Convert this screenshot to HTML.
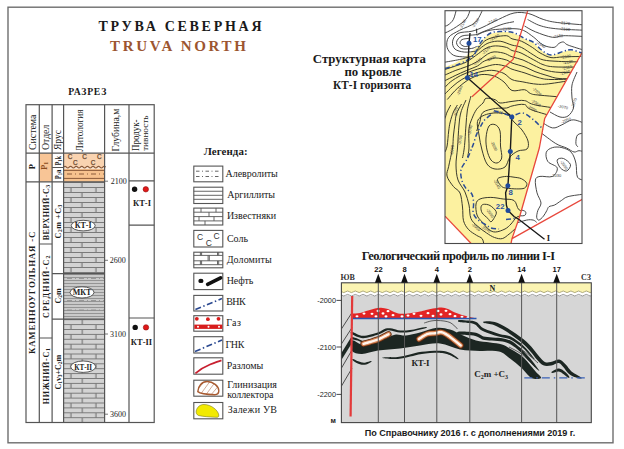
<!DOCTYPE html>
<html><head><meta charset="utf-8">
<style>
html,body{margin:0;padding:0;background:#fff;width:624px;height:449px;overflow:hidden}
svg{display:block}
svg{font-family:"Liberation Serif",serif}
.sans{font-family:"Liberation Sans",sans-serif}
</style></head><body>
<svg width="624" height="449" viewBox="0 0 624 449">
<defs>
<pattern id="brick" x="63.6" y="182" width="25" height="10" patternUnits="userSpaceOnUse">
<rect width="25" height="10" fill="#d3d3d3"/>
<path d="M0 0.5H25M0 5.5H25M18.4 0.5V5.5M7.4 5.5V10.5" stroke="#7a7a7a" stroke-width="1.2"/>
</pattern>
<pattern id="brick2" x="63.6" y="319.2" width="25" height="9.8" patternUnits="userSpaceOnUse">
<rect width="25" height="9.8" fill="#d3d3d3"/>
<path d="M0 0.5H25M0 5.4H25M18.6 0.5V5.4M7.4 5.4V10.3" stroke="#7a7a7a" stroke-width="1.2"/>
</pattern>
<pattern id="argil" x="63.6" y="274" width="20" height="9" patternUnits="userSpaceOnUse">
<rect width="20" height="9" fill="#c9c9c9"/>
<path d="M0 0.5H20M0 3.5H20M0 6.5H20" stroke="#8f8f8f" stroke-width="0.9"/>
</pattern>
</defs>
<!-- frame -->
<rect x="8" y="7.2" width="605" height="435.6" fill="none" stroke="#6e6e6e" stroke-width="1.4"/>
<!-- title -->
<text x="98.5" y="30.6" font-size="14" font-weight="bold" fill="#1a1a1a" textLength="163" lengthAdjust="spacing">ТРУВА СЕВЕРНАЯ</text>
<text x="110" y="51" font-size="15" font-weight="bold" fill="#9c5530" textLength="136" lengthAdjust="spacing">TRUVA NORTH</text>
<text x="68.3" y="95.2" font-size="9.7" font-weight="bold" fill="#1a1a1a" textLength="38" lengthAdjust="spacing">РАЗРЕЗ</text>

<!-- table fills -->
<rect x="39.3" y="153.2" width="12.8" height="28.6" fill="#f8c596"/>
<rect x="63.6" y="153.2" width="41" height="28.6" fill="#f9d3b0"/>
<rect x="63.6" y="167" width="41" height="14.8" fill="#f6c28e"/>
<rect x="63.6" y="182" width="41" height="92" fill="url(#brick)"/>
<rect x="63.6" y="274" width="41" height="45" fill="url(#argil)"/>
<rect x="63.6" y="319" width="41" height="103.5" fill="url(#brick2)"/>
<g stroke="#8a5a3a" fill="none">
<path d="M63.6 167.2 q1.4 -1.6 2.8 0 t2.8 0 t2.8 0 t2.8 0 t2.8 0 t2.8 0 t2.8 0 t2.8 0 t2.8 0 t2.8 0 t2.8 0 t2.8 0 t2.8 0 t2.8 0 t2.8 0 V168.8 H63.6Z" fill="#fdf0e4" stroke="none"/><path d="M63.6 167.2 q1.4 -1.6 2.8 0 t2.8 0 t2.8 0 t2.8 0 t2.8 0 t2.8 0 t2.8 0 t2.8 0 t2.8 0 t2.8 0 t2.8 0 t2.8 0 t2.8 0 t2.8 0 t2.8 0" stroke-width="1.2"/>
<path d="M63.6 170.4H104.6M63.6 178.4H104.6" stroke-width="1"/>
<path d="M67 174H104" stroke-width="1" stroke-dasharray="5 3 1 3"/>
</g>
<g fill="#6a4a30" font-size="6.5" font-family="Liberation Sans" stroke="#6a4a30" stroke-width="0.25">
<text x="67.8" y="159.3">C</text><text x="82.2" y="159.3">C</text><text x="97" y="159.3">C</text>
<text x="73" y="164.5">C</text><text x="90.7" y="164.5">C</text>
</g>
<g stroke="#8a8a8a" stroke-width="0.8" fill="none">
<path d="M67 278.5H104M67 300.5H104M67 310H104" stroke-dasharray="5 3 1 3"/>
</g>
<!-- table lines -->
<g stroke="#555" stroke-width="1.2" fill="none">
<rect x="26" y="104.7" width="128.2" height="317.8"/>
<path d="M39.3 104.7V422.5M52.1 104.7V422.5M63.6 104.7V422.5M104.6 104.7V422.5M129 104.7V422.5"/>
<path d="M26 153.2H154.2M26 181.8H104.6M52.1 167.5H63.6M39.3 244H52.1M39.3 338H52.1M52.1 273.7H104.6M52.1 319.2H104.6M129 180.9H154.2M129 225.2H154.2M129 318H154.2"/>
<path d="M104.6 181.2H108M104.6 260.3H108M104.6 334H108M104.6 414.2H108" stroke-width="0.8"/>
</g>
<!-- ellipses -->
<g fill="#fff" stroke="#333" stroke-width="0.8">
<ellipse cx="83.2" cy="225.6" rx="12" ry="5.3"/>
<ellipse cx="82" cy="292.4" rx="12" ry="5.6"/>
<ellipse cx="83.2" cy="366.7" rx="12.5" ry="5.7"/>
</g>
<g font-size="8" font-weight="bold" fill="#222" text-anchor="middle">
<text x="83.2" y="228.4">КТ-I</text>
<text x="82" y="295.2">МКТ</text>
<text x="83.2" y="369.6" textLength="17.9" lengthAdjust="spacingAndGlyphs" font-size="8.4">КТ-II</text>
</g>
<!-- header texts rotated -->
<g font-size="10" fill="#222">
<text transform="translate(36.2 150) rotate(-90)" textLength="35.3" lengthAdjust="spacingAndGlyphs">Система</text>
<text transform="translate(48.6 150) rotate(-90)" textLength="25.3" lengthAdjust="spacingAndGlyphs">Отдел</text>
<text transform="translate(61 150) rotate(-90)" textLength="20" lengthAdjust="spacingAndGlyphs">Ярус</text>
<text transform="translate(83.3 151.4) rotate(-90)" textLength="42" lengthAdjust="spacingAndGlyphs">Литология</text>
<text transform="translate(119.2 151.4) rotate(-90)" textLength="42.7" lengthAdjust="spacingAndGlyphs">Глубина,м</text>
<text transform="translate(138.8 151) rotate(-90)" font-size="9.5" textLength="31.6" lengthAdjust="spacingAndGlyphs">Продук-</text>
<text transform="translate(148.3 151) rotate(-90)" font-size="9" textLength="35.6" lengthAdjust="spacingAndGlyphs">тивность</text>
</g>
<!-- depth labels -->
<g font-size="8" fill="#222">
<text x="110.8" y="184">2100</text>
<text x="109.8" y="263.1">2600</text>
<text x="110" y="336.8">3100</text>
<text x="110" y="417">3600</text>
</g>
<!-- productivity -->
<circle cx="134.6" cy="189.3" r="2.7" fill="#111"/>
<circle cx="145.8" cy="189.3" r="2.7" fill="#e01818" stroke="#901010" stroke-width="0.6"/>
<circle cx="135.2" cy="327.4" r="2.7" fill="#111"/>
<circle cx="146" cy="327.4" r="2.7" fill="#e01818" stroke="#901010" stroke-width="0.6"/>
<g font-size="8.5" font-weight="bold" fill="#222" text-anchor="middle">
<text x="142" y="206.4">КТ-I</text>
<text x="141.5" y="344.5">КТ-II</text>
</g>
<!-- col texts -->
<g font-weight="bold" fill="#1e1e1e">
<text transform="translate(34.8 354) rotate(-90)" font-size="8.8" textLength="122.3" lengthAdjust="spacing">КАМЕННОУГОЛЬНАЯ  -С</text>
<text transform="translate(48.9 240.2) rotate(-90)" font-size="8" textLength="55.3" lengthAdjust="spacing">ВЕРХНИЙ-С<tspan font-size="5.8" dy="1">3</tspan></text>
<text transform="translate(48.9 318) rotate(-90)" font-size="8" textLength="62.3" lengthAdjust="spacing">СРЕДНИЙ-С<tspan font-size="5.8" dy="1">2</tspan></text>
<text transform="translate(48.9 404.2) rotate(-90)" font-size="8" textLength="56" lengthAdjust="spacing">НИЖНИЙ-С<tspan font-size="5.8" dy="1">1</tspan></text>
<text transform="translate(35 169.3) rotate(-90)" font-size="8.5">P</text>
<text transform="translate(47.2 170) rotate(-90)" font-size="8.8" fill="#8a4c1c">P<tspan font-size="5.8" dy="1">1</tspan></text>
<text transform="translate(61.3 165.6) rotate(-90)" font-size="8" textLength="9.6" lengthAdjust="spacingAndGlyphs">P<tspan font-size="5.5" dy="1">1</tspan><tspan dy="-1">k</tspan></text>
<text transform="translate(61.3 179.2) rotate(-90)" font-size="8" textLength="9.6" lengthAdjust="spacingAndGlyphs">P<tspan font-size="5.5" dy="1">1</tspan><tspan dy="-1">a</tspan></text>
<text transform="translate(60.8 238.4) rotate(-90)" font-size="8" textLength="33.7" lengthAdjust="spacing">С<tspan font-size="5.5" dy="1">2</tspan><tspan dy="-1">m +С</tspan><tspan font-size="5.5" dy="1">3</tspan></text>
<text transform="translate(60.8 303.6) rotate(-90)" font-size="8">С<tspan font-size="5.5" dy="1">2</tspan><tspan dy="-1">m</tspan></text>
<text transform="translate(60.8 389.5) rotate(-90)" font-size="8" textLength="34.7" lengthAdjust="spacing">С<tspan font-size="5.5" dy="1">1</tspan><tspan dy="-1">v</tspan><tspan font-size="5.5" dy="1">3</tspan><tspan dy="-1">+С</tspan><tspan font-size="5.5" dy="1">2</tspan><tspan dy="-1">m</tspan></text>
</g>


<!-- LEGEND -->
<text x="203.7" y="155.1" font-size="10.9" font-weight="bold" fill="#1a1a1a" textLength="43.9" lengthAdjust="spacing">Легенда:</text>
<g fill="#fff" stroke="#555" stroke-width="1.1">
<rect x="193.8" y="166.1" width="29" height="15.7"/>
<rect x="193.8" y="187.2" width="29" height="16.3"/>
<rect x="193.8" y="208.1" width="29" height="16.9"/>
<rect x="193.8" y="230.4" width="29" height="16.6"/>
<rect x="193.8" y="252.2" width="29" height="15.6"/>
<rect x="193.8" y="273.2" width="29" height="16.4"/>
<rect x="193.8" y="295.4" width="29" height="15.6"/>
<rect x="193.8" y="315.7" width="29" height="15.5"/>
<rect x="193.8" y="336.7" width="29" height="16.3"/>
<rect x="193.8" y="357.8" width="29" height="16.4"/>
<rect x="193.8" y="380.2" width="29" height="16"/>
<rect x="193.8" y="402.5" width="29" height="16.3"/>
</g>
<g fill="none" stroke="#555" stroke-width="0.9">
<path d="M196 171.2H221M196 176.5H221" stroke-dasharray="3.5 2.5 1 2.5"/>
<path d="M193.8 191.25H222.8M193.8 195.3H222.8M193.8 199.3H222.8"/>
<path d="M193.8 212.2H222.8M193.8 216.6H222.8M193.8 220.9H222.8M201 208.1V212.2M216 208.1V212.2M209 212.2V216.6M199 216.6V220.9M214 216.6V220.9M205 220.9V225"/>
<path d="M193.8 255.4H222.8M193.8 260.8H222.8M193.8 264.7H222.8M200.4 252.2V255.4M201.6 252.2V255.4M217.5 252.2V255.4M218.7 252.2V255.4M208.1 255.4V260.8M209.3 255.4V260.8M200.4 260.8V264.7M201.6 260.8V264.7M217.5 260.8V264.7M218.7 260.8V264.7"/>
</g>
<g font-family="Liberation Sans" font-size="8.5" fill="#333" text-anchor="middle">
<text x="200.1" y="239.8">C</text><text x="208.7" y="246">C</text><text x="216.5" y="238.7">C</text>
</g>
<ellipse cx="200.9" cy="280.9" rx="2.6" ry="2.2" fill="#111"/>
<path d="M207.6 284.3 L220.6 277.9" stroke="#111" stroke-width="3.6" stroke-linecap="round"/>
<path d="M195.4 309.5 L221.9 298.6" stroke="#2a4890" stroke-width="1.6" stroke-dasharray="6 2.5 1.5 2.5"/>
<g fill="#d81c1c"><circle cx="196.8" cy="318.8" r="1.9"/><circle cx="207.9" cy="319.2" r="1.9"/><circle cx="218.5" cy="318.8" r="1.9"/></g>
<rect x="194.3" y="324.6" width="28" height="4.3" fill="#d81c1c"/>
<g fill="#fff"><circle cx="198" cy="326.7" r="1"/><circle cx="208.5" cy="326.7" r="1"/><circle cx="219" cy="326.7" r="1"/></g>
<path d="M195 351.5 L222 340" stroke="#2a4890" stroke-width="1.6" stroke-dasharray="6 2.5 1.5 2.5"/>
<path d="M195.4 373.4 C200 369.5 205 366.5 210 364.5 C214 363 218 361.5 221.5 360.4" fill="none" stroke="#c82030" stroke-width="1.8"/>
<defs><clipPath id="glin"><path d="M197.8 391.6 C198 386 202 381.5 207.1 381.5 C213 381.5 218.8 386 218.8 390.8 C218.8 393.5 217 394.7 214.9 394.7 C208 394.5 200 393.5 197.8 391.6Z"/></clipPath></defs>
<g clip-path="url(#glin)" stroke="#b07050" stroke-width="0.6">
<path d="M196 392L206 379M200 395L211 380M205 396L216 381M210 396L221 383M215 396L222 388"/>
</g>
<path d="M197.8 391.6 C198 386 202 381.5 207.1 381.5 C213 381.5 218.8 386 218.8 390.8 C218.8 393.5 217 394.7 214.9 394.7 C208 394.5 200 393.5 197.8 391.6Z" fill="none" stroke="#a85a30" stroke-width="1.4"/>
<path d="M196.2 411 C197 407 200 404.5 204 404.5 C211 404.5 218 410 218.8 415 C219 417 218 417.5 216 417.3 C209 417 203 416.5 198.5 415.5 C196.5 414.5 196 413 196.2 411Z" fill="#f2ea00" stroke="#7a7a20" stroke-width="0.6"/>
<g font-size="10" fill="#1a1a1a">
<text x="225.6" y="176.5" textLength="52.2" lengthAdjust="spacing">Алевролиты</text>
<text x="227.2" y="198.3" textLength="47.8" lengthAdjust="spacing">Аргиллиты</text>
<text x="226.9" y="218.5" textLength="49.3" lengthAdjust="spacing">Известняки</text>
<text x="226.9" y="241.5">Соль</text>
<text x="226.7" y="262.9" textLength="44.9" lengthAdjust="spacing">Доломиты</text>
<text x="226.7" y="284.1" textLength="26.5" lengthAdjust="spacing">Нефть</text>
<text x="226.2" y="305.3" textLength="19.5" lengthAdjust="spacing">ВНК</text>
<text x="226.2" y="325.7" textLength="14.7" lengthAdjust="spacing">Газ</text>
<text x="225.4" y="348.2" textLength="18.9" lengthAdjust="spacing">ГНК</text>
<text x="226.7" y="368.7" textLength="36.6" lengthAdjust="spacing">Разломы</text>
<text x="227.3" y="388.4" textLength="49.6" lengthAdjust="spacing">Глинизация</text>
<text x="227.3" y="397.5" textLength="46.2" lengthAdjust="spacing">коллектора</text>
<text x="227.7" y="413" textLength="49.2" lengthAdjust="spacing">Залежи УВ</text>
</g>

<!-- MAP -->
<defs>
<clipPath id="mapclip"><rect x="445" y="10.7" width="137" height="232.8"/></clipPath>
<clipPath id="wblock"><path d="M443 66.5 L445.0 67.5 L455.1 64.6 L466.3 59.6 L474.0 54.0 L478.0 46.0 L483.0 38.5 L490.8 32.0 L500.2 30.6 L513.0 31.5 L524.5 37.5 L533.8 41.5 L541.6 49.0 L551.0 54.0 L563.5 50.3 L571.2 48.8 L582.0 52.0 L584 52 L567.3 78.6 L544.7 118.5 L539.3 148.0 L519.8 216.0 L512.0 238.6 L511.0 243.5 L470.9 243.5 L443 214 Z"/></clipPath>
<clipPath id="nwblock"><path d="M443 8 L584 8 L584 53 L582.0 53.0 L571.2 49.8 L563.5 51.3 L551.0 55.0 L541.6 50.0 L533.8 42.5 L524.5 38.5 L513.0 32.5 L500.2 31.6 L490.8 33.0 L483.0 39.5 L478.0 47.0 L474.0 55.0 L466.3 60.6 L455.1 65.6 L445.0 68.5 L443 68.5 Z"/></clipPath>
<clipPath id="eblock"><path d="M584 52 L582.0 52.7 L567.3 78.6 L544.7 118.5 L539.3 148.0 L519.8 216.0 L512.0 238.6 L511.0 243.5 L584 245 Z"/></clipPath>
</defs>
<g clip-path="url(#mapclip)">
<rect x="445" y="10.7" width="137" height="232.8" fill="#fff"/>
<path d="M445.0 67.0C447.4 65.9 454.6 63.6 459.6 60.5C464.6 57.4 471.0 52.1 475.2 48.4C479.4 44.7 482.0 40.7 484.6 38.3C487.2 35.9 488.2 35.0 490.8 34.0C493.4 33.0 496.5 32.2 500.2 32.0C503.9 31.8 508.9 31.8 513.0 33.0C517.0 34.2 521.0 37.3 524.5 39.0C528.0 40.7 530.9 41.1 533.8 43.0C536.6 44.9 538.7 48.4 541.6 50.5C544.5 52.6 547.4 55.3 551.0 55.5C554.6 55.7 560.1 52.7 563.5 51.8C566.9 50.9 568.1 50.0 571.2 50.3C574.3 50.6 580.2 53.0 582.0 53.5L567.3 78.6 L544.7 118.5 L539.3 148.0 L519.8 216.0 L512.0 238.6 L511.0 243.5 L470.9 243.5 L445 216.2 Z" fill="#fcf1a0"/>
<g fill="none" stroke="#3a3a2c" stroke-width="1" clip-path="url(#wblock)">
<path d="M477.0 50.0C478.2 48.5 481.7 43.3 484.5 41.2C487.3 39.1 490.2 38.2 493.9 37.3C497.5 36.4 503.4 35.5 506.4 35.7C509.4 36.0 509.5 37.9 512.0 38.8C514.5 39.7 518.0 39.8 521.4 41.2C524.8 42.6 529.2 45.5 532.3 47.4C535.4 49.3 536.9 51.2 540.0 52.9C543.1 54.6 547.1 57.0 551.0 57.6C554.9 58.2 557.8 57.0 563.5 56.8C569.2 56.6 581.4 56.5 585.0 56.5"/>
<path d="M472.0 56.0C473.6 54.6 478.5 49.6 481.4 47.4C484.3 45.2 486.1 43.7 489.2 42.7C492.3 41.7 496.3 40.8 500.1 41.2C503.9 41.6 508.4 44.1 512.0 45.1C515.5 46.1 517.8 45.7 521.4 47.4C525.0 49.1 530.2 53.1 533.8 55.2C537.4 57.3 539.0 58.9 543.2 59.9C547.4 60.9 551.8 61.0 558.8 61.4C565.8 61.8 580.6 61.9 585.0 62.0"/>
<path d="M445.0 69.5C446.7 68.9 451.6 67.3 455.1 66.1C458.7 64.8 462.4 64.1 466.3 62.0C470.2 59.9 475.0 56.0 478.3 53.7C481.6 51.4 483.2 49.5 486.1 48.2C489.0 46.9 492.0 46.0 495.4 45.9C498.8 45.8 503.6 46.6 506.4 47.4C509.2 48.2 509.6 49.6 512.0 50.5C514.4 51.4 517.4 51.4 521.0 53.0C524.6 54.6 530.1 58.0 533.8 59.9C537.5 61.8 539.5 63.4 543.0 64.6C546.5 65.8 548.0 66.5 555.0 66.9C562.0 67.3 580.0 67.0 585.0 67.0"/>
<path d="M445.0 75.0C446.7 74.3 451.6 72.0 455.1 70.6C458.7 69.2 462.6 68.2 466.3 66.7C470.0 65.2 473.3 63.9 477.4 61.5C481.5 59.1 486.5 53.9 490.8 52.5C495.1 51.1 499.7 52.3 503.2 53.0C506.7 53.7 508.7 55.6 512.0 56.8C515.3 58.0 519.4 58.6 523.0 60.0C526.6 61.4 530.1 63.6 533.8 65.3C537.5 67.0 540.6 68.8 545.0 70.0C549.4 71.2 553.3 72.1 560.0 72.4C566.7 72.7 580.8 72.1 585.0 72.0"/>
<path d="M445.0 80.6C446.7 79.8 451.6 77.3 455.1 75.6C458.7 73.9 462.6 72.2 466.3 70.6C470.0 69.0 474.4 67.6 477.4 66.0C480.4 64.4 481.5 62.3 484.5 61.0C487.5 59.7 491.8 58.2 495.4 58.0C499.0 57.8 503.6 59.2 506.4 60.0C509.2 60.8 508.9 61.8 512.0 63.0C515.1 64.2 521.2 65.6 525.0 67.0C528.8 68.4 531.3 70.2 535.0 71.6C538.7 73.0 542.8 74.3 547.0 75.5C551.2 76.7 553.7 78.2 560.0 78.6C566.3 79.0 580.8 78.1 585.0 78.0"/>
<path d="M445.0 87.3C445.9 86.4 448.1 83.7 450.7 81.7C453.3 79.7 457.2 77.3 460.7 75.5C464.2 73.7 468.1 72.3 471.8 71.0C475.5 69.7 479.1 68.6 483.0 67.5C486.9 66.4 491.5 64.7 495.4 64.5C499.3 64.3 503.6 65.7 506.4 66.5C509.2 67.3 508.9 68.1 512.0 69.2C515.1 70.3 520.7 71.6 525.0 73.0C529.3 74.4 533.7 76.4 538.0 77.5C542.3 78.6 543.2 79.3 551.0 79.5C558.8 79.7 579.3 78.7 585.0 78.5"/>
<path d="M445.0 94.0C446.3 92.7 450.1 88.6 452.9 86.2C455.7 83.8 458.4 81.5 461.8 79.5C465.2 77.5 469.3 75.4 473.0 74.0C476.7 72.6 480.6 71.6 484.1 71.0C487.6 70.4 490.7 70.1 494.0 70.5C497.3 70.9 501.0 72.0 504.0 73.5C507.0 75.0 508.9 78.2 512.0 79.6C515.1 81.0 518.7 81.1 522.9 81.9C527.1 82.7 532.3 83.9 537.0 84.2C541.7 84.5 543.0 84.5 551.0 83.5C559.0 82.5 579.3 78.9 585.0 78.0"/>
<path d="M447.3 99.5C448.6 98.0 452.3 93.4 455.1 90.6C457.9 87.8 461.2 84.9 464.0 82.8C466.8 80.7 468.8 79.4 471.8 78.0C474.8 76.6 478.2 74.8 481.9 74.5C485.6 74.2 490.3 74.8 494.0 76.0C497.7 77.2 501.0 79.6 504.0 82.0C507.0 84.4 508.6 89.2 512.0 90.5C515.4 91.8 521.4 89.2 524.5 89.7C527.6 90.2 528.1 92.7 530.7 93.6C533.3 94.5 531.0 94.3 540.0 95.2C549.0 96.1 577.5 98.4 585.0 99.0"/>
<path d="M467.5 157.0C467.8 155.5 468.8 152.6 469.0 148.0C469.2 143.4 468.4 134.3 468.9 129.4C469.4 124.5 470.7 121.9 472.0 118.5C473.3 115.1 474.9 111.8 476.7 109.2C478.5 106.6 481.4 104.8 483.0 103.0C484.6 101.2 484.0 98.8 486.1 98.3C488.2 97.8 493.1 99.0 495.4 99.8C497.7 100.6 497.3 102.7 500.1 103.0C502.9 103.3 507.9 101.8 512.0 101.4C516.1 101.0 520.3 99.9 524.5 100.6C528.7 101.2 526.9 103.4 537.0 105.3C547.1 107.2 577.0 110.9 585.0 112.0"/>
<path d="M476.7 131.0C477.2 129.4 478.8 124.8 479.9 121.7C480.9 118.6 480.4 114.5 483.0 112.3C485.6 110.1 491.5 109.2 495.4 108.5C499.3 107.8 503.6 108.4 506.4 108.0C509.2 107.6 509.0 106.6 512.0 106.0C515.0 105.4 520.9 103.7 524.5 104.5C528.1 105.3 523.7 107.3 533.8 110.7C543.9 114.1 576.5 122.6 585.0 125.0"/>
<path d="M450.7 105.0C450.1 106.2 448.1 109.8 447.1 112.0C446.2 114.2 445.4 117.4 445.0 118.5"/>
<path d="M457.4 105.0C456.7 106.2 454.6 109.2 453.4 112.0C452.2 114.8 451.0 118.8 450.2 122.0C449.4 125.2 449.2 127.0 448.7 131.0C448.2 135.0 447.7 142.5 447.1 146.0C446.5 149.5 445.4 151.0 445.0 152.0"/>
<path d="M461.5 104.0C460.7 105.7 457.6 110.7 456.5 114.0C455.4 117.3 455.4 120.3 454.9 124.0C454.4 127.7 453.8 132.0 453.4 136.0C453.0 140.0 453.3 142.9 452.5 148.0C451.7 153.1 449.6 161.6 448.7 166.3C447.8 171.0 446.2 172.6 447.0 176.0C447.8 179.4 451.2 183.7 453.4 186.5C455.6 189.3 458.5 189.6 460.0 193.0C461.5 196.4 461.9 202.4 462.5 207.0C463.1 211.6 462.5 216.9 463.5 220.7C464.5 224.5 466.5 227.3 468.7 229.7C470.9 232.1 474.3 233.8 476.5 235.3C478.7 236.8 480.9 237.0 482.1 238.6C483.4 240.2 483.7 243.9 484.0 245.0"/>
<path d="M466.0 100.0C465.2 102.0 462.2 107.8 461.0 112.0C459.8 116.2 459.6 119.0 459.0 125.0C458.4 131.0 458.0 141.3 457.5 148.0C457.0 154.7 455.9 159.7 456.0 165.0C456.1 170.3 456.5 175.5 458.0 180.0C459.5 184.5 463.2 187.8 465.0 192.0C466.8 196.2 468.0 200.6 469.0 205.0C470.0 209.4 469.4 214.8 470.9 218.4C472.3 222.0 475.1 223.9 477.7 226.3C480.3 228.7 483.8 231.1 486.6 233.0C489.4 234.9 491.9 236.6 494.5 237.5C497.1 238.4 499.9 239.2 502.3 238.6C504.7 238.0 507.0 235.7 509.1 234.1C511.2 232.5 514.0 229.8 515.0 229.0"/>
<path d="M471.0 96.0C470.4 98.3 468.2 105.2 467.4 110.0C466.6 114.8 466.4 120.0 466.0 125.0C465.6 130.0 465.3 135.8 465.0 140.0C464.7 144.2 464.4 147.0 464.0 150.0C463.6 153.0 462.8 156.7 462.5 158.0"/>
<path d="M489.0 126.0C490.6 123.8 493.6 124.0 495.4 124.8C497.2 125.6 499.1 127.5 500.0 131.0C500.9 134.5 500.2 141.5 500.5 146.0C500.8 150.5 502.3 155.2 501.7 158.0C501.1 160.8 498.8 162.7 497.0 163.0C495.2 163.3 492.7 162.2 491.0 160.0C489.3 157.8 487.8 153.7 487.0 150.0C486.2 146.3 485.7 142.0 486.0 138.0C486.3 134.0 487.4 128.2 489.0 126.0Z"/>
<path d="M478.0 120.0C479.8 116.4 485.3 114.5 490.0 113.5C494.7 112.5 502.0 112.6 506.0 114.0C510.0 115.4 511.3 119.3 514.0 122.0C516.7 124.7 519.7 126.8 522.0 130.0C524.3 133.2 527.2 137.8 528.0 141.0C528.8 144.2 528.7 147.3 527.0 149.0C525.3 150.7 520.8 149.7 518.0 151.0C515.2 152.3 512.2 154.3 510.0 157.0C507.8 159.7 507.5 165.0 505.0 167.0C502.5 169.0 498.0 169.5 495.0 169.0C492.0 168.5 489.2 167.2 487.0 164.0C484.8 160.8 483.3 154.8 482.0 150.0C480.7 145.2 479.7 140.0 479.0 135.0C478.3 130.0 476.2 123.6 478.0 120.0Z"/>
<path d="M498.6 178.0C500.0 177.2 503.8 176.5 506.4 176.4C509.0 176.3 511.5 176.8 514.0 177.2C516.5 177.6 519.3 177.7 521.4 178.7C523.5 179.7 526.3 181.8 526.8 183.4C527.3 185.0 526.2 187.2 524.5 188.1C522.8 189.0 519.7 188.9 516.7 188.9C513.7 188.9 508.9 188.5 506.4 188.1C503.9 187.7 503.1 187.7 501.7 186.5C500.3 185.3 498.3 182.4 497.8 181.0C497.3 179.6 497.2 178.8 498.6 178.0Z"/>
<path d="M476.0 204.0C476.5 201.3 477.5 200.1 480.0 199.0C482.5 197.9 486.9 197.4 490.8 197.4C494.7 197.4 499.3 198.5 503.2 199.0C507.1 199.5 511.4 198.8 514.0 200.5C516.6 202.2 516.8 207.6 518.7 209.5C520.6 211.4 524.6 210.7 525.5 211.7C526.4 212.7 525.7 214.7 524.3 215.6C522.9 216.5 519.2 215.6 517.0 217.0C514.8 218.4 513.0 222.0 511.0 224.0C509.0 226.0 507.6 227.7 505.0 229.0C502.4 230.3 498.3 231.9 495.6 232.0C492.9 232.1 491.1 231.2 488.9 229.5C486.6 227.8 484.1 224.4 482.1 222.0C480.1 219.6 478.0 218.0 477.0 215.0C476.0 212.0 475.5 206.7 476.0 204.0Z"/>
<path d="M481.0 207.2C481.2 205.8 481.8 204.7 483.3 204.4C484.8 204.1 487.9 204.3 490.0 205.5C492.1 206.7 495.4 209.7 496.2 211.7C496.9 213.7 495.4 215.6 494.5 217.3C493.6 219.0 492.1 221.6 491.0 221.8C489.9 222.0 489.3 219.9 487.8 218.4C486.3 216.9 483.2 214.7 482.1 212.8C481.0 210.9 480.8 208.6 481.0 207.2Z"/>
</g>
<g fill="none" stroke="#404040" stroke-width="0.95" clip-path="url(#nwblock)">
<path d="M456.5 9.0C456.0 10.7 454.8 16.7 453.4 19.4C452.0 22.1 449.7 23.8 448.0 25.0C446.3 26.2 443.8 26.2 443.0 26.5"/>
<path d="M470.5 9.0C469.7 10.7 468.7 16.1 465.8 19.4C462.9 22.7 457.2 26.3 453.4 28.7C449.6 31.1 444.7 33.1 443.0 34.0"/>
<path d="M483.0 9.0C481.7 11.2 479.1 18.9 475.2 22.5C471.3 26.1 464.0 27.8 459.6 30.3C455.2 32.8 450.8 34.4 448.7 37.3C446.6 40.1 446.3 44.4 447.1 47.4C447.9 50.4 450.4 53.6 453.4 55.2C456.4 56.8 461.9 56.7 465.0 57.0C468.1 57.3 469.8 57.1 472.0 56.8C474.2 56.5 477.2 55.5 478.3 55.2"/>
<path d="M585.0 25.0C580.4 24.6 564.2 23.4 557.2 22.5C550.2 21.6 548.0 20.9 543.2 19.4C538.4 17.9 533.3 14.6 528.4 13.5C523.5 12.4 519.0 12.0 514.0 13.0C509.0 14.0 503.8 17.0 498.6 19.4C493.4 21.8 487.4 25.1 483.0 27.1C478.6 29.1 476.2 30.1 472.0 31.2C467.8 32.2 461.2 31.7 458.0 33.4C454.8 35.1 453.1 38.6 452.6 41.2C452.1 43.8 452.9 47.2 454.9 49.0C456.8 50.8 460.9 51.7 464.3 52.1C467.7 52.5 473.4 51.4 475.2 51.3"/>
<path d="M514.0 21.7C512.2 22.1 507.1 22.8 503.2 24.0C499.3 25.2 494.3 27.3 490.8 28.7C487.3 30.1 484.6 31.2 482.0 32.2C479.4 33.2 478.5 34.2 475.2 34.8C471.9 35.4 465.1 34.7 462.0 36.0C458.9 37.3 456.6 40.4 456.5 42.5C456.4 44.6 458.6 47.5 461.1 48.5C463.6 49.5 468.7 48.8 471.3 48.5C473.9 48.2 475.8 46.8 476.7 46.5"/>
<path d="M469.7 38.3C468.4 38.5 463.6 38.7 462.0 39.6C460.4 40.5 459.8 42.4 460.2 43.5C460.6 44.6 462.8 46.0 464.3 46.4C465.8 46.8 468.2 46.0 469.0 45.9"/>
<path d="M443.0 62.5C445.8 62.0 455.0 60.5 459.6 59.5C464.2 58.5 467.6 57.5 470.5 56.5C473.4 55.5 475.7 54.0 476.7 53.5"/>
<path d="M585.0 30.3C580.1 30.0 563.2 29.5 555.7 28.7C548.2 27.9 544.7 27.1 540.0 25.6C535.3 24.1 529.7 20.5 527.6 19.5"/>
<path d="M585.0 36.5C581.4 36.4 568.9 35.6 563.5 35.7C558.1 35.8 557.2 37.9 552.5 37.3C547.8 36.6 540.1 33.7 535.4 31.8C530.7 29.9 526.3 27.0 524.5 26.0"/>
<path d="M585.0 50.5C582.2 49.6 571.7 46.5 568.1 45.1C564.5 43.7 565.0 42.3 563.5 42.0C562.0 41.7 560.4 42.6 558.8 43.5C557.2 44.4 556.7 47.1 554.1 47.4C551.5 47.7 546.6 46.8 543.2 45.1C539.8 43.4 537.0 39.7 533.8 37.3C530.5 34.9 527.0 31.9 523.7 30.5C520.4 29.1 518.7 28.9 514.0 28.7C509.3 28.5 500.0 29.1 495.4 29.5C490.8 29.9 488.7 30.5 486.1 31.2C483.5 31.9 481.5 32.9 479.9 33.6C478.3 34.3 477.2 35.2 476.7 35.5"/>
</g>
<g fill="none" stroke="#404040" stroke-width="0.95" clip-path="url(#eblock)">
<path d="M577.0 72.0C576.2 74.2 572.8 80.7 572.0 85.0C571.2 89.3 571.8 94.2 572.0 98.0C572.2 101.8 574.2 105.0 573.5 108.0C572.8 111.0 570.2 114.5 568.0 116.0C565.8 117.5 563.0 117.7 560.0 117.0C557.0 116.3 551.7 112.8 550.0 112.0"/>
<path d="M540.0 121.0C542.1 122.2 548.9 127.3 552.5 127.9C556.1 128.5 558.7 126.1 561.9 124.8C565.1 123.5 568.6 120.6 571.6 120.0C574.6 119.4 577.4 120.7 579.6 121.4C581.8 122.1 584.1 123.6 585.0 124.0"/>
<path d="M540.0 132.0C542.6 133.9 551.3 140.8 555.7 143.5C560.1 146.2 563.6 146.6 566.6 148.0C569.6 149.4 571.9 151.6 574.0 152.0C576.1 152.4 577.2 150.7 579.0 150.7C580.8 150.7 584.0 151.8 585.0 152.0"/>
<path d="M585.0 133.0C583.8 133.3 579.0 133.2 577.5 135.0C576.0 136.8 575.8 141.5 575.9 143.5C576.0 145.5 577.6 146.4 578.0 147.0"/>
<path d="M585.0 180.3C583.8 179.8 579.0 180.1 577.5 177.2C576.0 174.3 576.9 167.3 575.9 163.1C574.9 158.9 573.5 154.8 571.2 152.2C568.9 149.6 565.0 148.4 561.9 147.6C558.8 146.8 555.1 146.8 552.5 147.6C549.9 148.4 547.1 149.9 546.3 152.2C545.5 154.5 546.1 159.0 547.9 161.6C549.7 164.2 556.4 165.3 557.2 167.8C558.0 170.3 555.4 175.0 552.5 176.4C549.6 177.8 542.9 175.8 540.0 176.4C537.1 177.0 535.9 177.3 535.4 180.0C534.9 182.7 536.1 189.0 537.0 192.8C537.9 196.6 540.9 200.0 541.0 203.0C541.1 206.0 538.5 208.2 537.8 210.6C537.1 213.0 536.5 215.7 536.7 217.3C536.9 218.9 537.8 220.3 538.9 220.1C540.0 219.9 542.1 217.8 543.4 216.2C544.7 214.6 545.9 212.2 546.8 210.6C547.7 209.0 547.7 207.6 549.0 206.7C550.3 205.8 552.5 206.0 554.6 205.0C556.7 204.0 559.1 201.9 561.4 200.5C563.6 199.1 564.2 197.7 568.1 196.6C572.0 195.5 582.2 194.4 585.0 194.0"/>
<path d="M557.2 160.0C557.7 158.4 561.3 157.7 563.5 158.5C565.7 159.3 570.0 162.6 570.5 164.7C571.0 166.8 568.3 170.5 566.6 171.0C564.9 171.5 561.9 169.6 560.3 167.8C558.7 166.0 556.7 161.6 557.2 160.0Z"/>
<path d="M515.0 223.5C516.9 222.9 523.6 220.7 526.6 220.1C529.6 219.5 531.6 219.7 533.3 220.1C535.0 220.5 536.1 222.0 536.7 222.4"/>
<path d="M515.0 208.0C515.8 208.2 518.1 208.9 519.9 209.5C521.6 210.1 524.8 210.7 525.5 211.7C526.2 212.7 526.0 215.0 524.3 215.6C522.5 216.2 516.5 215.5 515.0 215.5"/>
</g>
<g font-family="Liberation Sans" font-size="4" fill="#3a3a3a" text-anchor="middle">
<text transform="translate(462.7 24) rotate(-60)" y="1.4">-2140</text>
<text transform="translate(475.5 23) rotate(-55)" y="1.4">-2150</text>
<text transform="translate(492.3 21.2) rotate(-22)" y="1.4">-2140</text>
<text transform="translate(506.4 28.8) rotate(-3)" y="1.4">-2130</text>
<text transform="translate(565 23) rotate(5)" y="1.4">-2170</text>
<text transform="translate(565 29) rotate(5)" y="1.4">-2160</text>
<text transform="translate(558 36) rotate(-5)" y="1.4">-2150</text>
<text transform="translate(541 44.5) rotate(35)" y="1.4">-2140</text>
<text transform="translate(494.5 37.5) rotate(-30)" y="1.4">-2130</text>
<text transform="translate(486 50.5) rotate(-42)" y="1.4">-2120</text>
<text transform="translate(477.5 61.5) rotate(-40)" y="1.4">-2110</text>
<text transform="translate(491 58.5) rotate(-25)" y="1.4">-2090</text>
<text transform="translate(566 56.5) rotate(-10)" y="1.4">-2130</text>
<text transform="translate(568 62) rotate(-10)" y="1.4">-2120</text>
<text transform="translate(567 67.5) rotate(-12)" y="1.4">-2110</text>
<text transform="translate(565 72.5) rotate(-15)" y="1.4">-2100</text>
<text transform="translate(537 91.5) rotate(42)" y="1.4">-2070</text>
<text transform="translate(536 103) rotate(32)" y="1.4">-2060</text>
<text transform="translate(532 108.5) rotate(30)" y="1.4">-2050</text>
<text transform="translate(459.5 90.5) rotate(-68)" y="1.4">-2080</text>
<text transform="translate(456 112) rotate(-80)" y="1.4">-2070</text>
<text transform="translate(452 150) rotate(-85)" y="1.4">-2060</text>
<text transform="translate(460 140) rotate(-80)" y="1.4">-2050</text>
<text transform="translate(497 184) rotate(60)" y="1.4">-2040</text>
<text transform="translate(490 213) rotate(55)" y="1.4">-2030</text>
<text transform="translate(486 229) rotate(30)" y="1.4">-2040</text>
<text transform="translate(476 227) rotate(40)" y="1.4">-2050</text>
<text transform="translate(494 146) rotate(65)" y="1.4">-2030</text>
<text transform="translate(498 112) rotate(12)" y="1.4">-2040</text>
<text transform="translate(563 107) rotate(10)" y="1.4">-2070</text>
<text transform="translate(566 120.5) rotate(-20)" y="1.4">-2050</text>
<text transform="translate(556 176) rotate(0)" y="1.4">-2030</text>
<text transform="translate(564 165) rotate(55)" y="1.4">-2030</text>
<text transform="translate(574 103) rotate(-70)" y="1.4">-2070</text>
<text transform="translate(470 130) rotate(-80)" y="1.4">-2040</text>
</g>
<g fill="none" stroke="#2a4c98" stroke-width="1.5" stroke-dasharray="5 2.5 1.2 2.5">
<path d="M445.0 68.5C446.7 68.0 451.6 66.9 455.1 65.6C458.7 64.3 463.2 62.4 466.3 60.6C469.4 58.8 472.1 57.3 474.0 55.0C475.9 52.7 476.5 49.6 478.0 47.0C479.5 44.4 480.9 41.8 483.0 39.5C485.1 37.2 487.9 34.3 490.8 33.0C493.7 31.7 496.5 31.7 500.2 31.6C503.9 31.5 508.9 31.4 513.0 32.5C517.0 33.6 521.0 36.8 524.5 38.5C528.0 40.2 530.9 40.6 533.8 42.5C536.6 44.4 538.7 47.9 541.6 50.0C544.5 52.1 547.4 54.8 551.0 55.0C554.6 55.2 560.1 52.2 563.5 51.3C566.9 50.4 568.1 49.5 571.2 49.8C574.3 50.1 580.2 52.5 582.0 53.0"/>
<path d="M490.8 114.6C489.8 115.5 486.1 118.4 484.5 120.1C482.9 121.8 482.7 122.5 481.4 124.8C480.1 127.1 478.0 131.0 476.7 134.1C475.4 137.2 474.4 141.2 473.6 143.5C472.8 145.8 473.0 145.1 472.0 147.6C471.0 150.1 469.2 154.9 467.4 158.5C465.6 162.1 462.0 165.8 461.1 169.4C460.2 173.0 461.1 177.2 461.9 180.3C462.7 183.4 464.1 185.8 465.8 188.1C467.5 190.4 470.7 191.7 472.0 194.3C473.3 196.9 473.4 200.6 473.6 203.7C473.8 206.8 472.5 210.2 473.2 212.8C473.9 215.5 475.5 217.5 477.7 219.6C479.9 221.7 484.4 223.8 486.6 225.2C488.8 226.6 489.0 227.3 491.1 228.0C493.2 228.7 497.7 228.9 499.0 229.1"/>
<path d="M493.9 110.7C496.8 111.5 506.2 115.0 511.0 115.4C515.8 115.8 519.1 112.3 522.9 113.1C526.7 113.9 530.4 117.4 533.8 120.1C537.2 122.8 541.6 127.9 543.2 129.4"/>
<path d="M506.0 219.5L515.0 218.4"/>
</g>
<g fill="none" stroke="#e8483c" stroke-width="1.3">
<path d="M528.2 9 L513 59.4 L472 96.8"/>
<path d="M582 52.7 L567.3 78.6 L544.7 118.5 L539.3 148.0 L519.8 216.0 L512.0 238.6 L511.0 243.5"/>
<path d="M584 198.5 L512 238.6"/>
<path d="M443 214 L470.9 243.3"/>
</g>
<path d="M470 33 L469 43.2 L467.4 77.8 L511.8 116.9 L510.3 151.5 L507.9 185.8 L505.6 192.8 L506.4 205.2 L508 210.6 L514 216.5 L519 219.5 L544.5 239.2" fill="none" stroke="#1a1a1a" stroke-width="1.4"/>
<path d="M476.7 28.7 V33.4" stroke="#222" stroke-width="1"/>
<g fill="#1f4a9c">
<circle cx="469" cy="43.2" r="2.5"/><circle cx="467.4" cy="77.8" r="2.5"/><circle cx="511.8" cy="116.9" r="2.5"/>
<circle cx="510.3" cy="151.5" r="2.5"/><circle cx="507.9" cy="185.8" r="2.5"/><circle cx="508" cy="210.6" r="2.5"/>
</g>
<g font-family="Liberation Sans" font-weight="bold" font-size="7.8" fill="#2a52a0">
<text x="473" y="42.4">17</text>
<text x="469.4" y="76.5">14</text>
<text x="517.6" y="125.3">2</text>
<text x="515.4" y="160.2">4</text>
<text x="508.6" y="195.4">8</text>
<text x="495.8" y="208.9">22</text>
</g>
<text x="546.8" y="240.5" font-size="8.5" font-weight="bold" fill="#222">I</text>
</g>
<rect x="445" y="10.7" width="137" height="232.8" fill="none" stroke="#4a4a4a" stroke-width="1.1"/>
<g font-weight="bold" fill="#1a1a1a" font-size="12.8" text-anchor="middle">
<text x="369.4" y="62.7">Структурная карта</text>
<text x="373" y="75.5">по кровле</text>
<text x="333.1" y="89.2" text-anchor="start" textLength="78.2" lengthAdjust="spacingAndGlyphs">КТ-I горизонта</text>
</g>
<!-- PROFILE -->
<text x="361.7" y="260" font-size="12.5" font-weight="bold" fill="#1a1a1a" textLength="193.3" lengthAdjust="spacing">Геологический профиль по линии I-I</text>
<defs><clipPath id="profclip"><rect x="341.4" y="282.8" width="249.9" height="139.8"/></clipPath></defs>
<g clip-path="url(#profclip)">
<rect x="341.4" y="282.8" width="249.9" height="139.8" fill="#d6d6d6"/>
<rect x="341.4" y="282.8" width="249.9" height="11" fill="#fbf4b2"/>
<path d="M338 291.8 q1.925 -1.6 3.850 0 t3.850 0 t3.850 0 t3.850 0 t3.850 0 t3.850 0 t3.850 0 t3.850 0 t3.850 0 t3.850 0 t3.850 0 t3.850 0 t3.850 0 t3.850 0 t3.850 0 t3.850 0 t3.850 0 t3.850 0 t3.850 0 t3.850 0 t3.850 0 t3.850 0 t3.850 0 t3.850 0 t3.850 0 t3.850 0 t3.850 0 t3.850 0 t3.850 0 t3.850 0 t3.850 0 t3.850 0 t3.850 0 t3.850 0 t3.850 0 t3.850 0 t3.850 0 t3.850 0 t3.850 0 t3.850 0 t3.850 0 t3.850 0 t3.850 0 t3.850 0 t3.850 0 t3.850 0 t3.850 0 t3.850 0 t3.850 0 t3.850 0 t3.850 0 t3.850 0 t3.850 0 t3.850 0 t3.850 0 t3.850 0 t3.850 0 t3.850 0 t3.850 0 t3.850 0 t3.850 0 t3.850 0 t3.850 0 t3.850 0 t3.850 0 t3.850 0 t3.850 0 t3.850 0 t3.850 0 t3.850 0 t3.850 0 V 296 H338Z" fill="#fff"/>
<path d="M338 291.8 q1.925 -1.6 3.850 0 t3.850 0 t3.850 0 t3.850 0 t3.850 0 t3.850 0 t3.850 0 t3.850 0 t3.850 0 t3.850 0 t3.850 0 t3.850 0 t3.850 0 t3.850 0 t3.850 0 t3.850 0 t3.850 0 t3.850 0 t3.850 0 t3.850 0 t3.850 0 t3.850 0 t3.850 0 t3.850 0 t3.850 0 t3.850 0 t3.850 0 t3.850 0 t3.850 0 t3.850 0 t3.850 0 t3.850 0 t3.850 0 t3.850 0 t3.850 0 t3.850 0 t3.850 0 t3.850 0 t3.850 0 t3.850 0 t3.850 0 t3.850 0 t3.850 0 t3.850 0 t3.850 0 t3.850 0 t3.850 0 t3.850 0 t3.850 0 t3.850 0 t3.850 0 t3.850 0 t3.850 0 t3.850 0 t3.850 0 t3.850 0 t3.850 0 t3.850 0 t3.850 0 t3.850 0 t3.850 0 t3.850 0 t3.850 0 t3.850 0 t3.850 0 t3.850 0 t3.850 0 t3.850 0 t3.850 0 t3.850 0 t3.850 0" fill="none" stroke="#9a9660" stroke-width="0.8"/>
<path d="M338 296.0 q1.925 -1.6 3.850 0 t3.850 0 t3.850 0 t3.850 0 t3.850 0 t3.850 0 t3.850 0 t3.850 0 t3.850 0 t3.850 0 t3.850 0 t3.850 0 t3.850 0 t3.850 0 t3.850 0 t3.850 0 t3.850 0 t3.850 0 t3.850 0 t3.850 0 t3.850 0 t3.850 0 t3.850 0 t3.850 0 t3.850 0 t3.850 0 t3.850 0 t3.850 0 t3.850 0 t3.850 0 t3.850 0 t3.850 0 t3.850 0 t3.850 0 t3.850 0 t3.850 0 t3.850 0 t3.850 0 t3.850 0 t3.850 0 t3.850 0 t3.850 0 t3.850 0 t3.850 0 t3.850 0 t3.850 0 t3.850 0 t3.850 0 t3.850 0 t3.850 0 t3.850 0 t3.850 0 t3.850 0 t3.850 0 t3.850 0 t3.850 0 t3.850 0 t3.850 0 t3.850 0 t3.850 0 t3.850 0 t3.850 0 t3.850 0 t3.850 0 t3.850 0 t3.850 0 t3.850 0 t3.850 0 t3.850 0 t3.850 0 t3.850 0 V 300 H338Z" fill="#d6d6d6"/>
<path d="M338 295.2 q1.925 -1.6 3.850 0 t3.850 0 t3.850 0 t3.850 0 t3.850 0 t3.850 0 t3.850 0 t3.850 0 t3.850 0 t3.850 0 t3.850 0 t3.850 0 t3.850 0 t3.850 0 t3.850 0 t3.850 0 t3.850 0 t3.850 0 t3.850 0 t3.850 0 t3.850 0 t3.850 0 t3.850 0 t3.850 0 t3.850 0 t3.850 0 t3.850 0 t3.850 0 t3.850 0 t3.850 0 t3.850 0 t3.850 0 t3.850 0 t3.850 0 t3.850 0 t3.850 0 t3.850 0 t3.850 0 t3.850 0 t3.850 0 t3.850 0 t3.850 0 t3.850 0 t3.850 0 t3.850 0 t3.850 0 t3.850 0 t3.850 0 t3.850 0 t3.850 0 t3.850 0 t3.850 0 t3.850 0 t3.850 0 t3.850 0 t3.850 0 t3.850 0 t3.850 0 t3.850 0 t3.850 0 t3.850 0 t3.850 0 t3.850 0 t3.850 0 t3.850 0 t3.850 0 t3.850 0 t3.850 0 t3.850 0 t3.850 0 t3.850 0" fill="none" stroke="#8c8c8c" stroke-width="0.9"/>
<!-- hatch -->
<g stroke="#2a2a2a" stroke-width="0.8">
<path d="M341.4 329 L352 312.6M341.4 344 L352 327.6M341.4 368.2 L352 350M341.4 386.2 L352 368.2"/>
</g>
<path d="M341.4 356 L352 339 L352 343 L341.4 360Z" fill="#1e2a24"/>
<path d="M352.0 313.5C353.3 313.4 357.3 313.5 360.0 313.0C362.7 312.5 365.5 311.2 368.0 310.5C370.5 309.8 372.8 308.9 375.0 308.5C377.2 308.1 378.8 307.7 381.0 307.8C383.2 307.9 385.8 308.3 388.0 309.0C390.2 309.7 392.0 311.2 394.0 312.0C396.0 312.8 397.3 313.6 400.0 313.8C402.7 314.0 406.7 313.6 410.0 313.2C413.3 312.8 417.3 312.0 420.0 311.5C422.7 311.0 423.8 310.5 426.0 310.0C428.2 309.5 430.4 308.9 433.0 308.5C435.6 308.1 439.0 307.3 441.5 307.4C444.0 307.5 445.8 308.1 448.0 309.0C450.2 309.9 452.7 311.5 455.0 312.5C457.3 313.5 459.5 314.2 462.0 315.0C464.5 315.8 467.8 316.4 470.0 317.0C472.2 317.6 474.6 318.1 475.5 318.3 L475.5 318.6 L352 318.6 Z" fill="#e32424"/>
<g fill="#fff"><ellipse cx="357" cy="316.3" rx="1.5" ry="1.15"/><ellipse cx="364" cy="313.6" rx="1.5" ry="1.15"/><ellipse cx="372" cy="313.8" rx="1.5" ry="1.15"/><ellipse cx="378" cy="311" rx="1.5" ry="1.15"/><ellipse cx="383" cy="313.5" rx="1.5" ry="1.15"/><ellipse cx="388" cy="311.2" rx="1.5" ry="1.15"/><ellipse cx="393" cy="315.2" rx="1.5" ry="1.15"/><ellipse cx="408" cy="315.6" rx="1.5" ry="1.15"/><ellipse cx="414" cy="313.8" rx="1.5" ry="1.15"/><ellipse cx="421" cy="315.8" rx="1.5" ry="1.15"/><ellipse cx="428" cy="313.2" rx="1.5" ry="1.15"/><ellipse cx="433" cy="316" rx="1.5" ry="1.15"/><ellipse cx="438" cy="311" rx="1.5" ry="1.15"/><ellipse cx="441" cy="314.5" rx="1.5" ry="1.15"/><ellipse cx="446" cy="310.8" rx="1.5" ry="1.15"/><ellipse cx="450" cy="314.2" rx="1.5" ry="1.15"/><ellipse cx="455" cy="316.2" rx="1.5" ry="1.15"/><ellipse cx="462" cy="316.8" rx="1.5" ry="1.15"/><ellipse cx="468" cy="317.5" rx="1.5" ry="1.15"/><ellipse cx="386" cy="316.5" rx="1.5" ry="1.15"/><ellipse cx="376" cy="316.4" rx="1.5" ry="1.15"/><ellipse cx="402" cy="316.5" rx="1.5" ry="1.15"/></g>
<path d="M352 318.5 H476.5" stroke="#2a55b0" stroke-width="1.6"/>
<g fill="none" stroke="#3a3a3a" stroke-width="0.8">
<path d="M424.2 323.0C425.3 322.7 428.9 321.4 431.0 321.0C433.1 320.6 434.8 320.5 437.0 320.5C439.2 320.5 441.8 320.7 444.0 321.0C446.2 321.3 448.3 321.8 450.0 322.5C451.7 323.2 452.7 324.4 454.0 325.5C455.3 326.6 457.1 328.4 457.7 329.0"/>
<path d="M509.0 347.0C510.8 348.0 516.8 350.8 520.0 353.0C523.2 355.2 525.5 357.7 528.0 360.0C530.5 362.3 533.8 365.8 535.0 367.0"/>
<path d="M511.0 343.5C512.7 344.4 517.8 346.9 521.0 349.0C524.2 351.1 527.2 353.7 530.0 356.0C532.8 358.3 536.7 361.8 538.0 363.0"/>
</g>
<g fill="#1c2622">
<path d="M352.0 340.5C353.7 339.4 358.2 344.2 362.0 344.5C365.8 344.8 370.7 343.7 375.0 342.5C379.3 341.3 384.5 338.8 388.0 337.5C391.5 336.2 393.0 334.8 396.0 334.5C399.0 334.2 402.0 335.8 406.0 335.5C410.0 335.2 414.8 333.8 420.0 332.5C425.2 331.2 432.0 328.3 437.0 327.8C442.0 327.3 445.8 328.3 450.0 329.5C454.2 330.7 457.7 333.2 462.0 335.0C466.3 336.8 471.3 339.2 476.0 340.5C480.7 341.8 485.7 341.8 490.0 342.5C494.3 343.2 498.4 343.3 502.0 344.5C505.6 345.7 508.1 347.5 511.5 349.5C514.9 351.5 519.1 353.8 522.4 356.5C525.6 359.2 528.7 363.4 531.0 366.0C533.3 368.6 534.3 370.0 536.0 372.0C537.7 374.0 541.8 377.0 541.0 378.0C540.2 379.0 534.8 379.8 531.5 378.0C528.2 376.2 524.6 370.8 521.0 367.5C517.4 364.2 513.7 361.2 510.0 358.5C506.3 355.8 504.0 352.8 499.0 351.5C494.0 350.2 486.5 351.3 480.0 351.0C473.5 350.7 466.7 350.8 460.0 349.5C453.3 348.2 446.7 344.2 440.0 343.5C433.3 342.8 426.7 344.7 420.0 345.5C413.3 346.3 407.0 347.7 400.0 348.5C393.0 349.3 384.3 349.6 378.0 350.5C371.7 351.4 366.3 353.9 362.0 354.0C357.7 354.1 353.7 353.2 352.0 351.0C350.3 348.8 350.3 341.6 352.0 340.5Z"/>
<path d="M352.4 331.9C354.3 332.2 358.8 335.7 363.0 335.8C367.2 335.9 373.9 333.7 377.7 332.5C381.4 331.2 383.3 329.2 385.7 328.5C388.1 327.9 389.8 328.2 392.1 328.5C394.5 328.8 397.1 330.3 400.1 330.5C403.0 330.8 406.9 330.4 409.9 330.0C412.8 329.7 415.2 328.9 417.8 328.4C420.5 327.9 424.5 327.2 425.9 327.1C427.3 327.0 427.4 327.4 426.1 327.9C424.8 328.4 420.8 329.3 418.2 330.0C415.5 330.7 413.2 331.6 410.1 332.0C407.1 332.4 403.0 332.7 399.9 332.5C396.9 332.3 394.1 331.0 391.9 330.7C389.6 330.4 388.5 330.0 386.3 330.7C384.0 331.3 382.2 333.3 378.3 334.5C374.5 335.8 367.4 338.3 363.0 338.2C358.5 338.1 353.4 335.2 351.6 334.1C349.8 333.1 350.5 331.6 352.4 331.9Z"/>
<path d="M352.3 337.1C353.4 337.2 356.3 338.2 358.3 339.0C360.3 339.8 363.3 341.3 364.2 342.0C365.2 342.6 364.8 343.3 363.8 343.0C362.7 342.8 359.7 341.3 357.7 340.6C355.7 339.9 352.6 339.4 351.7 338.9C350.8 338.3 351.2 337.1 352.3 337.1Z"/>
<path d="M383.6 357.4C385.9 357.2 393.3 357.5 397.6 357.0C402.0 356.5 405.8 355.3 409.8 354.4C413.8 353.5 416.5 352.3 421.7 351.7C426.8 351.1 435.9 350.5 440.6 350.7C445.4 350.9 447.5 351.8 450.4 353.1C453.3 354.3 456.8 357.2 458.0 358.2C459.1 359.2 458.8 359.6 457.4 359.0C456.1 358.5 452.4 356.0 449.6 354.9C446.8 353.9 445.2 353.1 440.6 352.9C435.9 352.7 427.0 353.3 421.9 353.9C416.9 354.5 414.3 355.7 410.2 356.6C406.2 357.4 402.2 358.7 397.8 359.0C393.3 359.3 386.0 358.5 383.6 358.2C381.2 357.9 381.3 357.6 383.6 357.4Z"/>
<path d="M353.1 359.1C353.9 359.3 355.9 360.5 357.4 361.1C358.9 361.7 360.6 362.3 362.0 362.5C363.4 362.7 364.3 362.7 365.8 362.4C367.3 362.2 369.9 361.1 370.8 361.0C371.7 361.0 371.9 361.4 371.2 362.0C370.4 362.5 367.8 363.9 366.2 364.4C364.6 364.8 363.2 364.9 361.6 364.7C360.0 364.4 358.1 363.7 356.6 362.9C355.1 362.1 353.1 360.6 352.5 359.9C352.0 359.3 352.2 358.9 353.1 359.1Z"/>
<path d="M484.3 321.5C486.1 321.3 490.9 320.9 494.8 322.1C498.7 323.2 502.9 325.4 507.7 328.3C512.5 331.2 519.4 335.9 523.6 339.3C527.8 342.8 530.6 346.0 533.2 348.9C535.8 351.8 537.5 354.6 539.4 356.7C541.3 358.9 542.9 361.0 544.8 361.9C546.7 362.8 548.3 362.5 550.7 362.1C553.1 361.7 556.8 359.2 559.3 359.6C561.8 360.0 563.8 362.6 565.7 364.6C567.7 366.5 569.3 369.5 571.2 371.2C573.0 372.9 575.0 373.6 576.7 374.7C578.3 375.7 580.5 376.8 581.2 377.4C581.9 378.1 581.8 378.6 580.8 378.6C579.8 378.5 577.3 378.1 575.3 377.3C573.3 376.6 570.9 375.5 568.8 373.8C566.8 372.1 564.9 368.8 563.3 367.0C561.6 365.2 560.7 363.3 558.7 363.0C556.7 362.8 553.9 365.1 551.3 365.5C548.7 365.9 545.7 366.4 543.2 365.3C540.8 364.3 538.7 361.6 536.6 359.3C534.5 357.0 533.0 354.3 530.4 351.5C527.8 348.6 525.3 345.6 521.2 342.3C517.1 338.9 510.4 334.2 505.9 331.3C501.3 328.4 497.5 326.3 493.8 324.9C490.2 323.5 485.7 323.5 484.1 322.9C482.5 322.4 482.5 321.6 484.3 321.5Z"/>
<path d="M459.1 320.0C460.6 319.8 465.3 320.2 468.2 320.6C471.0 320.9 473.6 320.6 476.2 322.0C478.9 323.3 480.2 326.6 484.0 328.6C487.9 330.5 495.0 332.5 499.4 333.9C503.8 335.2 506.6 334.6 510.6 336.5C514.6 338.5 519.3 341.9 523.1 345.5C527.0 349.0 532.0 355.5 533.7 357.7C535.3 359.8 534.9 360.1 532.9 358.3C530.9 356.6 525.6 350.3 521.7 347.1C517.8 343.9 513.2 340.8 509.4 339.1C505.6 337.3 503.0 337.9 498.6 336.5C494.2 335.2 486.7 333.1 482.8 331.0C478.8 329.0 477.4 325.8 475.0 324.4C472.5 323.1 470.5 323.4 467.8 323.0C465.2 322.6 460.4 322.5 458.9 322.0C457.5 321.5 457.5 320.2 459.1 320.0Z"/>
<path d="M459.1 331.5C462.0 331.2 471.6 331.8 475.9 332.7C480.3 333.6 480.4 335.8 485.3 336.8C490.3 337.9 500.3 337.5 505.6 338.9C510.9 340.2 513.2 342.2 517.1 345.2C521.0 348.3 525.4 353.1 528.9 357.1C532.5 361.1 536.9 367.1 538.4 369.2C539.8 371.3 539.5 371.5 537.6 369.8C535.7 368.1 530.8 362.6 527.1 358.9C523.4 355.2 519.0 350.4 515.3 347.6C511.6 344.8 509.9 343.2 504.8 341.9C499.7 340.7 489.6 341.0 484.7 340.0C479.8 339.0 479.6 336.8 475.3 335.9C471.0 335.0 461.6 335.2 458.9 334.5C456.2 333.8 456.3 331.8 459.1 331.5Z"/>
<path d="M552.0 371.6C553.1 370.8 556.9 368.4 559.1 368.5C561.3 368.6 563.6 370.7 565.3 372.1C567.0 373.4 568.8 375.7 569.3 376.7C569.8 377.6 569.2 378.1 568.3 377.7C567.3 377.4 565.2 375.4 563.7 374.3C562.1 373.3 560.8 371.7 558.9 371.5C557.0 371.3 553.6 373.0 552.4 373.0C551.3 373.0 550.8 372.3 552.0 371.6Z"/>
<path d="M341.4 353 L351 337.5 L351 341.5 L341.4 357 Z"/>
</g>
<path d="M363.5 343.8C364.6 343.5 367.6 342.7 370.0 342.0C372.4 341.3 375.7 340.4 378.0 339.5C380.3 338.6 382.2 337.4 384.0 336.5C385.8 335.6 387.8 334.6 388.5 334.2" fill="none" stroke="#5a2a10" stroke-width="6.2" stroke-linecap="round"/>
<path d="M363.5 343.8C364.6 343.5 367.6 342.7 370.0 342.0C372.4 341.3 375.7 340.4 378.0 339.5C380.3 338.6 382.2 337.4 384.0 336.5C385.8 335.6 387.8 334.6 388.5 334.2" fill="none" stroke="#d58050" stroke-width="4.6" stroke-linecap="round"/>
<path d="M363.5 343.8C364.6 343.5 367.6 342.7 370.0 342.0C372.4 341.3 375.7 340.4 378.0 339.5C380.3 338.6 382.2 337.4 384.0 336.5C385.8 335.6 387.8 334.6 388.5 334.2" fill="none" stroke="#fff4ec" stroke-width="2.4" stroke-linecap="round" stroke-dasharray="2.2 0.9"/>
<path d="M419.0 339.0C420.3 338.2 424.3 335.2 427.0 334.2C429.7 333.2 432.6 333.5 435.0 333.2C437.4 332.9 439.4 331.9 441.4 332.2C443.4 332.5 445.0 333.6 447.0 334.8C449.0 336.0 451.2 337.8 453.5 339.6C455.8 341.4 459.5 344.4 460.7 345.4" fill="none" stroke="#5a2a10" stroke-width="6.2" stroke-linecap="round"/>
<path d="M419.0 339.0C420.3 338.2 424.3 335.2 427.0 334.2C429.7 333.2 432.6 333.5 435.0 333.2C437.4 332.9 439.4 331.9 441.4 332.2C443.4 332.5 445.0 333.6 447.0 334.8C449.0 336.0 451.2 337.8 453.5 339.6C455.8 341.4 459.5 344.4 460.7 345.4" fill="none" stroke="#d58050" stroke-width="4.6" stroke-linecap="round"/>
<path d="M419.0 339.0C420.3 338.2 424.3 335.2 427.0 334.2C429.7 333.2 432.6 333.5 435.0 333.2C437.4 332.9 439.4 331.9 441.4 332.2C443.4 332.5 445.0 333.6 447.0 334.8C449.0 336.0 451.2 337.8 453.5 339.6C455.8 341.4 459.5 344.4 460.7 345.4" fill="none" stroke="#fff4ec" stroke-width="2.4" stroke-linecap="round" stroke-dasharray="2.2 0.9"/><!-- red fault -->
<path d="M352.2 296 L350.6 416.5" stroke="#e33a3a" stroke-width="2.2"/>
<!-- blue dash-dot -->
<path d="M524.3 377.9 H588" stroke="#3a62b8" stroke-width="1.4" stroke-dasharray="8 4 1.5 4"/>
<!-- wells -->
<g stroke="#555" stroke-width="1">
<path d="M378.3 282.8V423M404.5 282.8V423M436.8 282.8V423M469.8 282.8V423M521.6 282.8V423M556.7 282.8V423"/>
</g>
<text x="492.3" y="290.5" font-size="8" font-weight="bold" text-anchor="middle" fill="#222">N</text>
<text x="411.5" y="366" font-size="9" font-weight="bold" fill="#222" textLength="18" lengthAdjust="spacing">КТ-I</text>
<text x="474.2" y="377.3" font-size="9" font-weight="bold" fill="#222">С<tspan font-size="6" dy="1.5">2</tspan><tspan dy="-1.5">m  +С</tspan><tspan font-size="6" dy="1.5">3</tspan></text>
</g>
<rect x="341.4" y="282.8" width="249.9" height="139.8" fill="none" stroke="#444" stroke-width="1.1"/>
<g fill="#111">
<path d="M374.9 282.8 L378.3 273.8 L381.7 282.8Z"/>
<path d="M401.1 282.8 L404.5 273.8 L407.9 282.8Z"/>
<path d="M433.4 282.8 L436.8 273.8 L440.2 282.8Z"/>
<path d="M466.4 282.8 L469.8 273.8 L473.2 282.8Z"/>
<path d="M518.2 282.8 L521.6 273.8 L525.0 282.8Z"/>
<path d="M553.3 282.8 L556.7 273.8 L560.1 282.8Z"/>
</g>
<g font-family="Liberation Sans" font-size="7.6" font-weight="bold" fill="#111" text-anchor="middle">
<text x="378.6" y="272">22</text><text x="404.5" y="272">8</text><text x="436.8" y="272">4</text>
<text x="469.8" y="272">2</text><text x="521.6" y="272">14</text><text x="556.7" y="272">17</text>
</g>
<g font-size="8" font-weight="bold" fill="#333">
<text x="340.4" y="279.7">ЮВ</text>
<text x="581" y="279.7">СЗ</text>
</g>
<g font-family="Liberation Sans" font-size="7.3" fill="#222" text-anchor="end">
<text x="336" y="303">-2000</text>
<text x="336" y="349.5">-2100</text>
<text x="336" y="397">-2200</text>
<text x="336" y="423" font-weight="bold">м</text>
</g>
<path d="M336.5 300.4H341.4M336.5 347H341.4M336.5 394.4H341.4" stroke="#333" stroke-width="0.9"/>
<text x="364.8" y="435.8" font-family="Liberation Sans" font-size="9.1" font-weight="bold" fill="#1a1a1a" textLength="210.4" lengthAdjust="spacing">По Справочнику 2016 г. с дополнениями 2019 г.</text>

</svg>
</body></html>
